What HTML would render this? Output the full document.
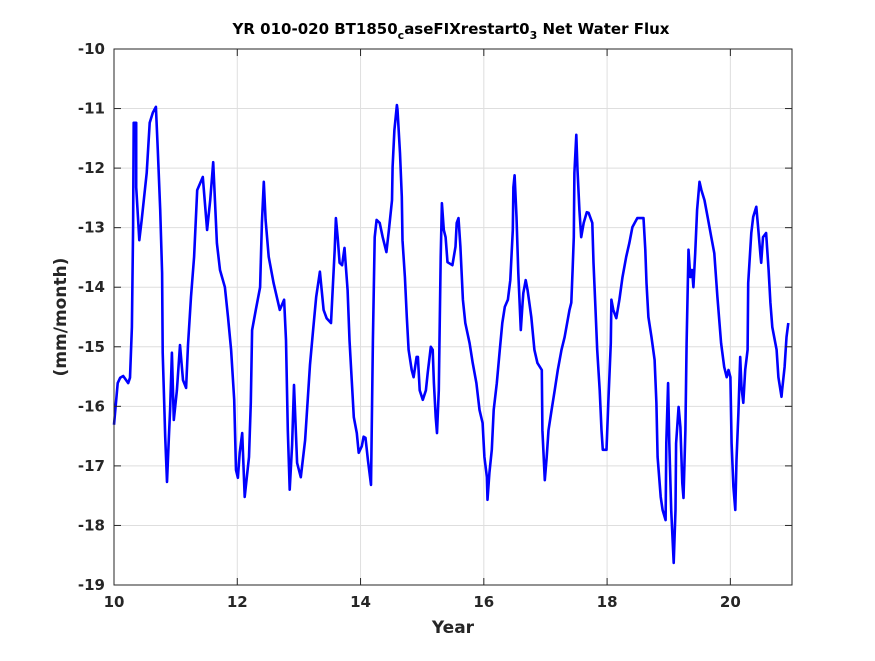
<!DOCTYPE html>
<html><head><meta charset="utf-8"><style>
body{margin:0;background:#fff;}
svg text{font-family:"DejaVu Sans","Liberation Sans",sans-serif;font-weight:bold;fill:#262626;}
</style></head><body>
<svg id="chart" width="875" height="656" viewBox="0 0 875 656" xmlns="http://www.w3.org/2000/svg">
<rect x="0" y="0" width="875" height="656" fill="#fff"/>
<rect x="114" y="49" width="678" height="536" fill="#fff"/>
<g id="grid"></g>
<g id="series"></g>
<rect x="114" y="49" width="678" height="536" fill="none" stroke="#262626" stroke-width="1"/>
<g id="ticks"></g>
<text x="451" y="34" text-anchor="middle" font-size="15" style="fill:#000">YR 010-020 BT1850<tspan font-size="11" dy="5">c</tspan><tspan dy="-5">aseFIXrestart0</tspan><tspan font-size="11" dy="5">3</tspan><tspan dy="-5"> Net Water Flux</tspan></text>
<text x="453" y="633" text-anchor="middle" font-size="17">Year</text>
<text transform="translate(66,317) rotate(-90)" text-anchor="middle" font-size="17">(mm/month)</text>
</svg>
<script>
const xTicks = [10, 12, 14, 16, 18, 20];
const yTicks = [-10, -11, -12, -13, -14, -15, -16, -17, -18, -19];
const years = [10.00,10.06,10.10,10.15,10.23,10.26,10.29,10.31,10.32,10.36,10.36,10.41,10.45,10.53,10.58,10.63,10.68,10.71,10.75,10.78,10.79,10.83,10.86,10.89,10.91,10.94,10.97,11.02,11.07,11.12,11.17,11.20,11.25,11.30,11.35,11.44,11.51,11.56,11.61,11.67,11.72,11.80,11.85,11.90,11.95,11.98,12.01,12.04,12.08,12.12,12.19,12.22,12.24,12.30,12.37,12.40,12.43,12.46,12.51,12.59,12.69,12.76,12.79,12.82,12.85,12.89,12.92,12.97,13.03,13.10,13.18,13.23,13.28,13.34,13.40,13.45,13.52,13.58,13.60,13.63,13.66,13.70,13.74,13.79,13.82,13.86,13.89,13.94,13.97,14.02,14.05,14.08,14.12,14.17,14.18,14.20,14.23,14.26,14.31,14.36,14.42,14.46,14.51,14.52,14.55,14.59,14.60,14.64,14.67,14.68,14.72,14.75,14.78,14.83,14.86,14.91,14.93,14.96,15.01,15.06,15.09,15.14,15.17,15.19,15.22,15.24,15.27,15.28,15.30,15.32,15.35,15.38,15.41,15.49,15.54,15.56,15.59,15.62,15.66,15.70,15.77,15.82,15.88,15.93,15.98,16.01,16.05,16.06,16.09,16.13,16.16,16.21,16.26,16.30,16.34,16.39,16.43,16.47,16.48,16.50,16.53,16.56,16.60,16.63,16.64,16.68,16.71,16.77,16.82,16.87,16.94,16.95,16.99,17.02,17.05,17.10,17.15,17.20,17.26,17.31,17.39,17.42,17.44,17.46,17.47,17.50,17.52,17.55,17.58,17.62,17.67,17.70,17.76,17.78,17.81,17.84,17.88,17.91,17.93,17.99,18.02,18.06,18.07,18.10,18.15,18.20,18.25,18.31,18.36,18.41,18.49,18.59,18.62,18.64,18.67,18.72,18.77,18.80,18.82,18.87,18.90,18.95,18.96,18.99,19.01,19.04,19.08,19.11,19.12,19.16,19.19,19.22,19.24,19.27,19.29,19.32,19.35,19.38,19.40,19.43,19.46,19.50,19.53,19.58,19.63,19.69,19.74,19.79,19.85,19.90,19.94,19.97,20.00,20.02,20.05,20.08,20.10,20.13,20.16,20.18,20.21,20.24,20.28,20.29,20.34,20.37,20.42,20.45,20.49,20.50,20.53,20.58,20.62,20.65,20.68,20.75,20.78,20.83,20.84,20.88,20.91,20.94];
const flux = [-16.31,-15.61,-15.52,-15.49,-15.61,-15.52,-14.67,-12.99,-11.24,-11.24,-12.32,-13.21,-12.87,-12.08,-11.24,-11.07,-10.97,-11.70,-12.70,-13.76,-15.10,-16.51,-17.27,-16.51,-16.06,-15.10,-16.23,-15.73,-14.97,-15.56,-15.69,-14.97,-14.16,-13.49,-12.37,-12.15,-13.04,-12.54,-11.90,-13.26,-13.71,-14.00,-14.50,-15.05,-15.89,-17.07,-17.20,-16.78,-16.45,-17.52,-16.85,-15.94,-14.72,-14.38,-14.00,-12.92,-12.23,-12.87,-13.49,-13.93,-14.38,-14.21,-14.89,-16.40,-17.40,-16.65,-15.64,-16.95,-17.19,-16.57,-15.30,-14.72,-14.16,-13.74,-14.38,-14.52,-14.60,-13.37,-12.84,-13.17,-13.59,-13.63,-13.34,-14.05,-14.89,-15.61,-16.18,-16.45,-16.78,-16.67,-16.51,-16.53,-16.90,-17.32,-16.56,-14.89,-13.16,-12.87,-12.92,-13.16,-13.41,-13.04,-12.54,-11.98,-11.36,-10.94,-11.02,-11.75,-12.48,-13.21,-13.83,-14.50,-15.05,-15.39,-15.51,-15.17,-15.17,-15.73,-15.89,-15.73,-15.44,-15.00,-15.05,-15.61,-16.18,-16.45,-15.73,-15.00,-13.49,-12.59,-13.04,-13.16,-13.58,-13.63,-13.32,-12.92,-12.84,-13.32,-14.21,-14.60,-14.94,-15.27,-15.61,-16.06,-16.28,-16.85,-17.19,-17.57,-17.12,-16.73,-16.06,-15.61,-15.05,-14.60,-14.33,-14.21,-13.88,-13.04,-12.32,-12.12,-12.82,-13.76,-14.72,-14.26,-14.10,-13.88,-14.05,-14.50,-15.05,-15.27,-15.39,-16.40,-17.24,-16.85,-16.40,-16.06,-15.73,-15.39,-15.05,-14.84,-14.38,-14.26,-13.71,-13.16,-12.08,-11.44,-12.03,-12.70,-13.16,-12.92,-12.74,-12.75,-12.92,-13.59,-14.33,-15.05,-15.73,-16.40,-16.73,-16.73,-15.94,-14.94,-14.21,-14.38,-14.52,-14.21,-13.83,-13.49,-13.26,-12.99,-12.84,-12.84,-13.37,-13.93,-14.50,-14.84,-15.22,-15.94,-16.85,-17.52,-17.74,-17.91,-16.62,-15.61,-16.62,-17.74,-18.63,-17.74,-16.62,-16.01,-16.35,-17.29,-17.54,-16.40,-14.94,-13.37,-13.83,-13.71,-14.00,-13.43,-12.70,-12.23,-12.37,-12.54,-12.82,-13.16,-13.43,-14.16,-14.94,-15.34,-15.51,-15.39,-15.51,-16.62,-17.35,-17.74,-16.90,-16.11,-15.17,-15.68,-15.94,-15.39,-15.05,-13.93,-13.09,-12.82,-12.65,-12.99,-13.49,-13.59,-13.16,-13.09,-13.71,-14.26,-14.67,-15.05,-15.51,-15.84,-15.73,-15.34,-14.84,-14.60];

const X0 = 114, X1 = 792, Y0 = 49, Y1 = 585;
const xMin = 10, xMax = 21, yMin = -19, yMax = -10;
function sx(v){ return X0 + (v - xMin) / (xMax - xMin) * (X1 - X0); }
function sy(v){ return Y1 - (v - yMin) / (yMax - yMin) * (Y1 - Y0); }
const NS = "http://www.w3.org/2000/svg";
function mk(tag, attrs, parent){
  const e = document.createElementNS(NS, tag);
  for (const k in attrs) e.setAttribute(k, attrs[k]);
  parent.appendChild(e);
  return e;
}
const grid = document.getElementById('grid');
const ticks = document.getElementById('ticks');
xTicks.forEach(t => {
  const x = sx(t);
  const g = mk('line', {x1:x, x2:x, y1:Y0, y2:Y1, stroke:'#dedede', 'stroke-width':1}, grid);
  
  
  const t1 = mk('line', {x1:x, x2:x, y1:Y1, y2:Y1-7, stroke:'#262626'}, ticks);
  
  
  const t2 = mk('line', {x1:x, x2:x, y1:Y0, y2:Y0+7, stroke:'#262626'}, ticks);
  
  
  const lb = mk('text', {x:x, y:Y1+22, 'text-anchor':'middle', 'font-size':15}, ticks);
  
  
  lb.textContent = t;
});
yTicks.forEach(t => {
  const y = sy(t);
  const g = mk('line', {x1:X0, x2:X1, y1:y, y2:y, stroke:'#dedede', 'stroke-width':1}, grid);
  
  
  const t1 = mk('line', {x1:X0, x2:X0+7, y1:y, y2:y, stroke:'#262626'}, ticks);
  
  
  const t2 = mk('line', {x1:X1, x2:X1-7, y1:y, y2:y, stroke:'#262626'}, ticks);
  
  
  const lb = mk('text', {x:X0-9, y:y+5, 'text-anchor':'end', 'font-size':15}, ticks);
  
  
  lb.textContent = t;
});
const pts = years.map((yr, i) => sx(yr).toFixed(1) + ',' + sy(flux[i]).toFixed(1)).join(' ');
const line = mk('polyline', {points: pts, fill:'none', stroke:'#0000ff', 'stroke-width':2.6, 'stroke-linejoin':'round'}, document.getElementById('series'));


</script>
</body></html>
